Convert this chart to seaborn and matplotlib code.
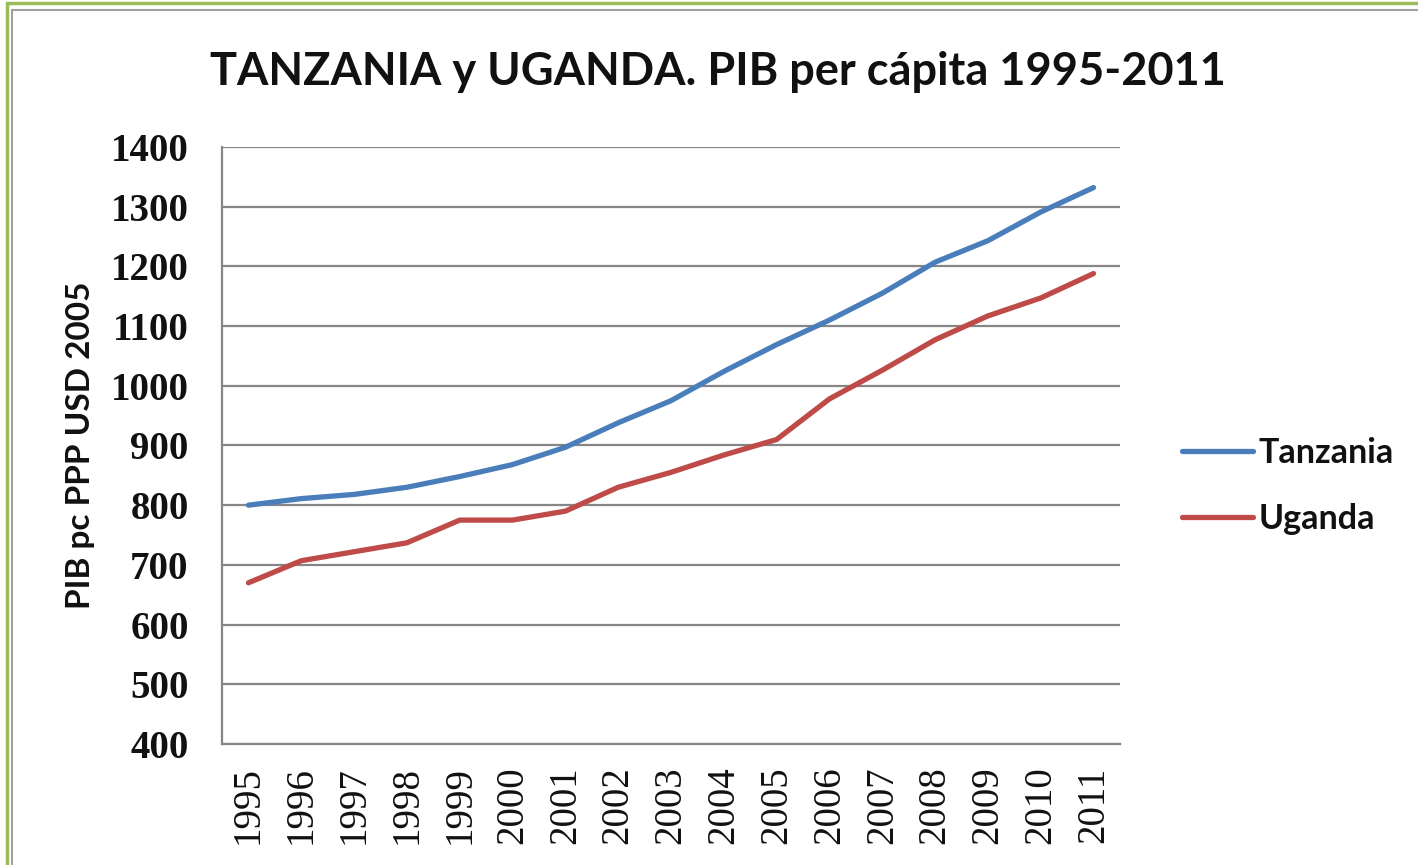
import pandas as pd
import matplotlib
matplotlib.use("Agg")
import matplotlib.pyplot as plt
import seaborn as sns
from matplotlib.patches import Rectangle

# Data
years = [str(y) for y in range(1995, 2012)]
tanzania = [800, 811, 818, 830, 848, 868, 897, 938, 975, 1024, 1069, 1110, 1155, 1207, 1243, 1291, 1332]
uganda = [670, 707, 722, 737, 775, 775, 790, 830, 855, 884, 910, 978, 1026, 1077, 1117, 1147, 1188]
series_names = ["Tanzania", "Uganda"]
series_colors = ["#4A7EBB", "#BE4B48"]
yticks = list(range(400, 1401, 100))

title = "TANZANIA y UGANDA. PIB per cápita 1995-2011"
ylabel = "PIB pc PPP USD 2005"

df = pd.DataFrame({"year": years, "Tanzania": tanzania, "Uganda": uganda})
long_df = df.melt(id_vars="year", var_name="country", value_name="pib")

sns.set_theme(style="white")
plt.rcParams["font.family"] = ["Lato", "DejaVu Sans"]

fig = plt.figure(figsize=(14.18, 8.65), dpi=100)
ax = fig.add_axes([0.1566, 0.1399, 0.6332, 0.6902])

sns.lineplot(data=long_df, x="year", y="pib", hue="country", hue_order=series_names,
             palette=series_colors, linewidth=3.8, sort=False, ax=ax, legend=False)

ax.set_xlim(-0.5, len(years) - 0.5)
ax.set_ylim(400, 1400)
ax.set_yticks(yticks)
ax.yaxis.grid(True, color="#868686", linewidth=1.6)
ax.set_axisbelow(True)
for s in ["top", "right"]:
    ax.spines[s].set_visible(False)
for s in ["left", "bottom"]:
    ax.spines[s].set_color("#868686")
    ax.spines[s].set_linewidth(1.6)
ax.tick_params(axis="y", length=0, pad=24)
ax.tick_params(axis="x", length=0, pad=16)

for lbl in ax.get_yticklabels():
    lbl.set_fontfamily("Liberation Serif")
    lbl.set_fontsize(28)
    lbl.set_fontweight("semibold")
    lbl.set_color("#111111")
ax.set_xticks(range(len(years)))
ax.set_xticklabels(years, rotation=90, fontfamily="Liberation Serif", fontsize=28,
                   color="#111111")

ax.set_xlabel("")
ax.set_ylabel(ylabel, fontsize=24, fontweight="bold", labelpad=11, color="#111111")

fig.text(0.506, 0.917, title, ha="center", va="center", fontsize=32.5,
         fontweight="bold", color="#111111")

# legend on the right
handles = [plt.Line2D([], [], color=c, linewidth=3.8) for c in series_colors]
leg = fig.legend(handles, series_names, loc="center left", bbox_to_anchor=(0.812, 0.438),
                 frameon=False, handlelength=2.1, handletextpad=0.15,
                 labelspacing=1.0, prop={"weight": "bold", "size": 24.5})
for t in leg.get_texts():
    t.set_color("#111111")

# outer frame (green + gray)
fig.patches.append(Rectangle((0.005, -0.05), 1.2, 1.047, transform=fig.transFigure,
                             fill=False, edgecolor="#9BBB59", linewidth=2.5))
fig.patches.append(Rectangle((0.0085, -0.05), 1.2, 1.039, transform=fig.transFigure,
                             fill=False, edgecolor="#A0A0A0", linewidth=1.5))

fig.savefig("out.png", dpi=100)
